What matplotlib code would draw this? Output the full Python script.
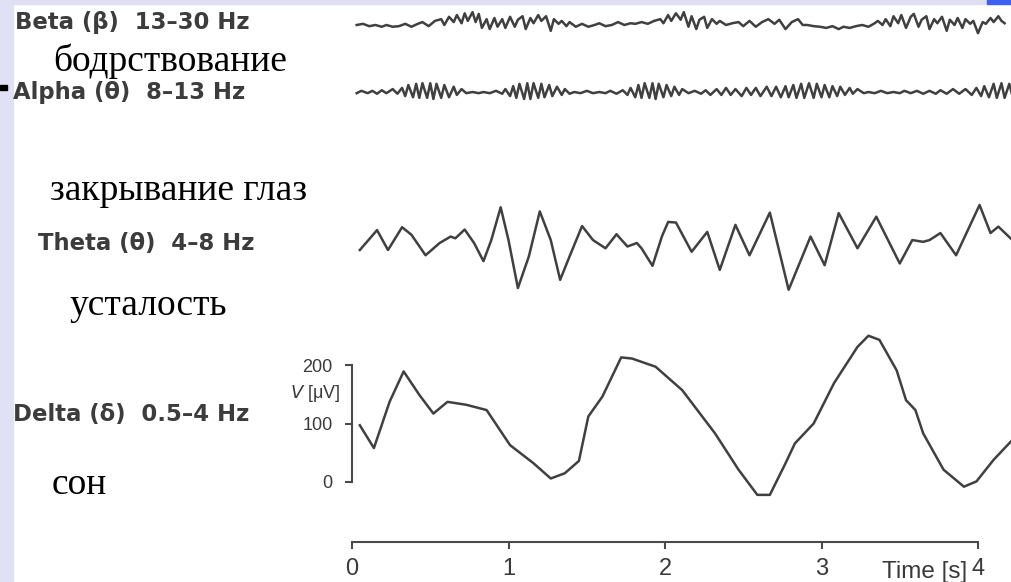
import numpy as np
import matplotlib.pyplot as plt
from matplotlib.patches import Rectangle

### EEG rhythms slide: four traces on one time scale, delta has the uV bracket and the time axis

W, H = 1012, 582
T0_X = 352          # pixel column of t = 0
PX_PER_S = 156.5
PX_PER_UV = 0.585
WAVE = '#404040'

# ---- data (seconds, microvolts relative to each trace's baseline) ----
beta_t = [0.03, 0.07, 0.11, 0.15, 0.19, 0.22, 0.26, 0.30, 0.34, 0.38, 0.42, 0.45, 0.49, 0.53,
          0.57, 0.59, 0.62, 0.65, 0.67, 0.70, 0.72, 0.74, 0.77, 0.79, 0.81, 0.83, 0.86, 0.88,
          0.91, 0.93, 0.96, 0.98, 1.01, 1.04, 1.06, 1.09, 1.11, 1.14, 1.16, 1.19, 1.21, 1.24,
          1.27, 1.29, 1.32, 1.34, 1.37, 1.39, 1.43, 1.47, 1.51, 1.55, 1.58, 1.62, 1.66, 1.70,
          1.74, 1.78, 1.81, 1.85, 1.89, 1.93, 1.97, 1.99, 2.02, 2.04, 2.07, 2.10, 2.12, 2.15,
          2.17, 2.20, 2.22, 2.25, 2.27, 2.30, 2.33, 2.35, 2.39, 2.43, 2.47, 2.50, 2.54, 2.58,
          2.62, 2.66, 2.70, 2.73, 2.77, 2.81, 2.85, 2.88, 2.91, 2.95, 2.99, 3.03, 3.07, 3.11,
          3.14, 3.18, 3.22, 3.26, 3.30, 3.34, 3.36, 3.39, 3.41, 3.44, 3.46, 3.49, 3.51, 3.54,
          3.57, 3.59, 3.62, 3.64, 3.67, 3.69, 3.72, 3.74, 3.77, 3.80, 3.82, 3.85, 3.87, 3.90,
          3.92, 3.95, 3.97, 4.00, 4.03, 4.05, 4.08, 4.10, 4.13, 4.15, 4.17]
beta_v = [0, 2, -2, 0, -3, 0, -3, -2, 2, -3, 2, 5, -2, 7,
          10, 0, 14, 5, 17, 3, 20, 7, 22, 5, 19, -5, 10, -7,
          12, -3, 10, -5, 14, -3, 9, 15, -7, 12, 3, 17, 7, 15,
          -10, 10, 2, 7, -2, 5, -3, 2, -3, 0, 3, -2, 0, 5,
          0, 3, 2, 5, 2, 7, 10, 3, 17, 7, 20, 9, 22, -3,
          15, -7, 9, 14, -5, 10, 2, 7, 0, 3, 5, -2, 7, -3,
          5, 10, 2, 9, -7, 5, 10, 0, 0, -2, -3, -5, -2, -7,
          -3, -5, -2, 0, -3, 3, 7, 0, 10, -2, 15, 3, 17, -5,
          14, 19, -3, 9, 15, -7, 10, 3, 14, -10, 9, 0, 12, -5,
          10, 2, 7, -14, 5, 2, 12, 5, 15, 7, 3]

alpha_t = [0.03, 0.06, 0.10, 0.13, 0.16, 0.19, 0.22, 0.26, 0.29, 0.32, 0.34, 0.36, 0.39, 0.41,
           0.43, 0.45, 0.48, 0.50, 0.52, 0.54, 0.57, 0.59, 0.62, 0.65, 0.67, 0.70, 0.73, 0.77,
           0.81, 0.84, 0.88, 0.92, 0.96, 0.98, 1.01, 1.03, 1.05, 1.07, 1.10, 1.12, 1.14, 1.16,
           1.19, 1.21, 1.23, 1.26, 1.28, 1.31, 1.34, 1.36, 1.39, 1.42, 1.46, 1.50, 1.54, 1.58,
           1.62, 1.65, 1.69, 1.73, 1.76, 1.78, 1.81, 1.83, 1.85, 1.87, 1.90, 1.92, 1.94, 1.96,
           1.99, 2.01, 2.04, 2.06, 2.09, 2.11, 2.15, 2.19, 2.23, 2.26, 2.29, 2.33, 2.36, 2.39,
           2.42, 2.45, 2.49, 2.52, 2.55, 2.58, 2.61, 2.65, 2.68, 2.71, 2.74, 2.77, 2.79, 2.82,
           2.84, 2.87, 2.89, 2.92, 2.95, 2.97, 3.00, 3.02, 3.05, 3.07, 3.10, 3.12, 3.15, 3.18,
           3.20, 3.23, 3.27, 3.30, 3.34, 3.38, 3.42, 3.46, 3.50, 3.53, 3.57, 3.61, 3.65, 3.69,
           3.73, 3.76, 3.80, 3.84, 3.88, 3.92, 3.96, 3.99, 4.02, 4.04, 4.07, 4.10, 4.12, 4.15,
           4.17, 4.20, 4.22]
alpha_v = [-2, 2, -2, 2, -3, 3, -2, 5, -3, 7, -7, 12, -9, 14,
           -10, 15, -10, 15, -12, 14, -10, 12, -9, 9, -5, 5, -2, 0,
           -2, 0, -2, 2, -3, 5, -7, 10, -10, 14, -12, 15, -12, 15,
           -10, 14, -9, 12, -7, 9, -5, 5, -3, 0, -2, 2, -2, 0,
           -2, 2, -3, 3, -5, 7, -9, 12, -10, 15, -10, 15, -12, 14,
           -9, 12, -7, 9, -5, 5, -2, 2, -3, 3, -5, 5, -5, 7,
           -5, 5, -7, 7, -5, 7, -7, 9, -7, 9, -9, 10, -9, 12,
           -10, 14, -10, 15, -10, 14, -9, 12, -9, 10, -7, 9, -5, 7,
           -3, 5, -2, 0, -2, 2, -2, 0, -2, 2, -2, 2, -3, 2,
           -3, 3, -3, 5, -3, 5, -5, 7, -7, 10, -9, 14, -10, 15,
           -10, 14, -7]

theta_t = [0.05, 0.16, 0.23, 0.32, 0.38, 0.47, 0.56, 0.63, 0.66, 0.72, 0.78, 0.84, 0.89, 0.95,
           1.00, 1.06, 1.13, 1.20, 1.27, 1.33, 1.39, 1.47, 1.54, 1.62, 1.69, 1.76, 1.82, 1.85,
           1.92, 1.98, 2.02, 2.07, 2.17, 2.27, 2.35, 2.45, 2.54, 2.67, 2.79, 2.93, 3.02, 3.11,
           3.23, 3.35, 3.50, 3.58, 3.65, 3.69, 3.76, 3.86, 4.01, 4.08, 4.13, 4.22]
theta_v = [-12, 22, -12, 27, 14, -21, 0, 11, 8, 23, 0, -31, 5, 61,
           5, -77, -23, 54, 5, -63, -23, 29, 5, -9, 15, -6, 0, -9,
           -39, 11, 36, 35, -15, 19, -46, 31, -21, 52, -80, 11, -38, 51,
           -9, 45, -35, 5, 2, 5, 17, -21, 65, 17, 28, 5]

delta_t = [0.05, 0.14, 0.24, 0.33, 0.43, 0.52, 0.61, 0.73, 0.86, 1.01, 1.16, 1.27, 1.36, 1.45,
           1.51, 1.60, 1.72, 1.79, 1.94, 2.11, 2.32, 2.47, 2.59, 2.67, 2.77, 2.83, 2.95, 3.08,
           3.23, 3.30, 3.37, 3.48, 3.54, 3.60, 3.65, 3.78, 3.91, 3.99, 4.10, 4.22]
delta_v = [97, 58, 137, 189, 149, 117, 137, 132, 123, 63, 32, 6, 15, 36,
           112, 146, 213, 211, 197, 157, 83, 21, -22, -22, 32, 66, 100, 169,
           231, 250, 243, 191, 140, 123, 83, 21, -8, 1, 38, 72]

time_ticks = [0, 1, 2, 3, 4]
uv_ticks = [0, 100, 200]

band_labels = ['Beta (β)  13–30 Hz', 'Alpha (θ)  8–13 Hz', 'Theta (θ)  4–8 Hz', 'Delta (δ)  0.5–4 Hz']
state_labels = ['бодрствование', 'закрывание глаз', 'усталость', 'сон']


def fx(x):
    return x / W


def fy(y):
    return 1 - y / H


fig = plt.figure(figsize=(W / 100, H / 100), dpi=100)
fig.patch.set_facecolor('white')

# slide decoration
fig.patches.append(Rectangle((0, 0), fx(13), 1, transform=fig.transFigure, color='#e1e1f5', zorder=0))
fig.patches.append(Rectangle((fx(13), fy(4)), fx(974), 4 / H, transform=fig.transFigure, color='#dde0f3', zorder=0))
fig.patches.append(Rectangle((fx(987), fy(4)), fx(25), 4 / H, transform=fig.transFigure, color='#3d5ef2', zorder=0))
fig.patches.append(Rectangle((0, fy(90)), fx(7), 5 / H, transform=fig.transFigure, color='black', zorder=1))


def trace_axes(y_center, half):
    ax = fig.add_axes([fx(T0_X), (H - y_center - half) / H, (W - T0_X) / W, 2 * half / H])
    ax.set_xlim(0, (W - T0_X) / PX_PER_S)
    lim = half / PX_PER_UV
    ax.set_ylim(-lim, lim)
    ax.axis('off')
    return ax


for tt, vv, yc in [(beta_t, beta_v, 25), (alpha_t, alpha_v, 92), (theta_t, theta_v, 243)]:
    a = trace_axes(yc, 60)
    a.plot(tt, vv, color=WAVE, lw=1.8, clip_on=False, solid_joinstyle='round')

# delta axes: bottom edge is the time axis (y=542), 0 uV at y=482
ax = fig.add_axes([fx(T0_X), (H - 542) / H, (W - T0_X) / W, (542 - 320) / H])
ax.patch.set_alpha(0)
ax.set_xlim(0, (W - T0_X) / PX_PER_S)
ax.set_ylim(-(542 - 482) / PX_PER_UV, (482 - 320) / PX_PER_UV)
ax.plot(delta_t, delta_v, color=WAVE, lw=1.8, clip_on=False, solid_joinstyle='round')

for s in ['top', 'right']:
    ax.spines[s].set_visible(False)
for s in ['bottom', 'left']:
    ax.spines[s].set_color('#4a4a4a')
    ax.spines[s].set_linewidth(1.5)
ax.spines['bottom'].set_bounds(0, 4)
ax.spines['left'].set_bounds(0, 200)

ax.set_xticks(time_ticks)
ax.set_xticklabels([str(t) for t in time_ticks], fontsize=17, family='Liberation Sans', color='#3a3a3a')
ax.set_yticks(uv_ticks)
ax.set_yticklabels([str(v) for v in uv_ticks], fontsize=13, family='Liberation Sans', color='#3a3a3a')
ax.tick_params(axis='x', direction='out', length=5, width=1.5, color='#4a4a4a', pad=6.5)
ax.tick_params(axis='y', direction='out', length=5, width=1.5, color='#4a4a4a', pad=9)

fig.text(fx(967), fy(578), 'Time [s]', ha='right', va='baseline', fontsize=17.5,
         family='Liberation Sans', color='#3a3a3a')
fig.text(fx(340), fy(393), r'$\it{V}$ [μV]', ha='right', va='center', fontsize=13,
         family='Liberation Sans', color='#3a3a3a')

# left labels
for lab, x, y in zip(band_labels, [15, 13, 38, 13], [23, 92, 243, 414]):
    fig.text(fx(x), fy(y), lab, ha='left', va='center', fontsize=16.4, fontweight='bold',
             family='DejaVu Sans', color='#3c3c3c')

for lab, x, y in zip(state_labels, [53, 50, 70, 52], [71, 200, 315, 494]):
    fig.text(fx(x), fy(y), lab, ha='left', va='baseline', fontsize=27,
             family='Liberation Serif', color='black')

plt.savefig('out.png', dpi=100)
